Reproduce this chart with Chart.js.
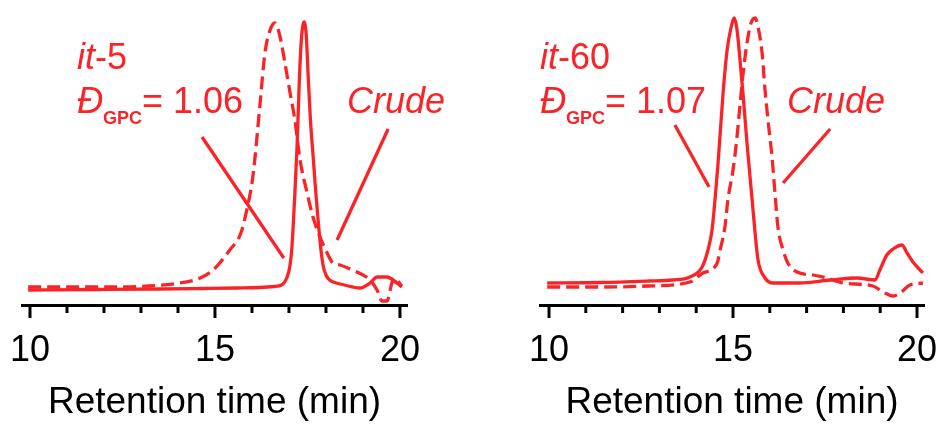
<!DOCTYPE html>
<html lang="en">
<head>
<meta charset="UTF-8">
<title>GPC traces</title>
<script src="https://cdn.jsdelivr.net/npm/chart.js"></script>
<style>
  body { margin: 0; background: #fff; }
  canvas { position: absolute; top: 0; }
</style>
</head>
<body>
<canvas id="left" width="472" height="425" style="left:0"></canvas>
<canvas id="right" width="472" height="425" style="left:472px"></canvas>
<script>
const red = 'rgb(250, 36, 40)';
const font = "'Liberation Sans', Arial, sans-serif";

// x axis: a tick every minute, labels every 5
const tickValues = [10, 11, 12, 13, 14, 15, 16, 17, 18, 19, 20];
const labelValues = [10, 15, 20];

// it-5 (purified) and its crude trace
const it5Time = [9.95, 11.9, 13.5, 14.6, 15.6, 16.2, 16.6, 16.8, 16.95, 17.03, 17.08, 17.15, 17.22, 17.28, 17.34, 17.41, 17.47, 17.52, 17.58, 17.65, 17.72, 17.78, 17.85, 17.92, 18.0, 18.1, 18.2, 18.5, 18.92, 19.19, 19.38, 19.65, 19.81, 20.05];
const it5Signal = [15, 15.5, 16, 16.5, 17, 17.5, 18.5, 20, 28, 40, 58, 105, 160, 225, 268, 283, 268, 228, 185, 150, 115, 88, 60, 40, 30, 25, 23, 20, 17, 22, 28, 28, 25, 18];
const crude5Time = [9.95, 11.9, 13.2, 14.05, 14.6, 14.95, 15.4, 15.7, 15.86, 16.0, 16.08, 16.22, 16.35, 16.49, 16.62, 16.76, 16.89, 17.03, 17.16, 17.3, 17.49, 17.65, 17.84, 18.03, 18.19, 18.38, 18.65, 19.0, 19.19, 19.38, 19.51, 19.65, 19.78, 19.84, 20.05];
const crude5Signal = [18, 18, 19, 22, 27, 35, 55, 72, 95, 122, 147, 202, 252, 275, 282, 268, 242, 212, 185, 145, 112, 88, 68, 52, 42, 40, 36, 30, 25, 15, 4, 4, 22, 27, 19];

// it-60 (purified) and its crude trace
const it60Time = [9.95, 11.4, 12.7, 13.35, 13.83, 14.16, 14.32, 14.43, 14.51, 14.59, 14.73, 14.84, 14.95, 15.03, 15.11, 15.19, 15.27, 15.38, 15.52, 15.6, 15.68, 15.87, 16.09, 16.8, 17.64, 18.37, 18.86, 18.99, 19.18, 19.35, 19.59, 19.73, 19.89, 20.16];
const it60Signal = [22, 22.5, 24, 25, 28, 38, 55, 75, 105, 140, 212, 255, 278, 287, 275, 245, 212, 162, 105, 72, 45, 27, 22, 22, 25, 27, 25, 35, 50, 56, 60, 52, 43, 32];
const crude60Time = [9.95, 11.4, 12.7, 13.83, 14.18, 14.57, 14.65, 14.78, 14.86, 15.0, 15.1, 15.19, 15.27, 15.38, 15.49, 15.6, 15.68, 15.79, 15.87, 15.95, 16.06, 16.14, 16.22, 16.36, 16.49, 16.74, 17.17, 17.55, 17.99, 18.8, 19.08, 19.35, 19.54, 19.81, 20.16];
const crude60Signal = [18, 18, 19, 23, 32, 42, 55, 78, 105, 135, 165, 200, 230, 262, 282, 287, 278, 252, 215, 185, 148, 112, 78, 55, 42, 33, 30, 27, 22, 19, 13, 9, 12, 20, 22];

// leader lines from the labels to the traces
const it5PointerTime = [14.65, 16.86];
const it5PointerSignal = [168, 47];
const crude5PointerTime = [19.68, 18.3];
const crude5PointerSignal = [176, 65];
const it60PointerTime = [13.42, 14.35];
const it60PointerSignal = [180, 118];
const crude60PointerTime = [17.64, 16.36];
const crude60PointerSignal = [176, 122];

const pts = (xs, ys) => xs.map((x, i) => ({ x: x, y: ys[i] }));

const tickMarks = {
  id: 'tickMarks',
  afterDraw(chart) {
    const ctx = chart.ctx;
    const sx = chart.scales.x;
    const y0 = chart.chartArea.bottom;
    ctx.save();
    ctx.strokeStyle = '#000';
    ctx.lineWidth = 3;
    tickValues.forEach(v => {
      const px = sx.getPixelForValue(v);
      const len = labelValues.includes(v) ? 13 : 8;
      ctx.beginPath();
      ctx.moveTo(px, y0);
      ctx.lineTo(px, y0 + len);
      ctx.stroke();
    });
    ctx.restore();
  }
};

const notes = {
  id: 'notes',
  afterDraw(chart, args, opts) {
    const ctx = chart.ctx;
    ctx.save();
    ctx.fillStyle = red;
    ctx.textBaseline = 'alphabetic';
    (opts.lines || []).forEach(line => {
      let x = line.x;
      line.parts.forEach(p => {
        const size = p.size || 36;
        ctx.font = (p.italic ? 'italic ' : '') + (p.bold ? 'bold ' : '') + size + 'px ' + font;
        ctx.fillText(p.text, x, line.y + (p.dy || 0));
        x += ctx.measureText(p.text).width;
      });
    });
    ctx.restore();
  }
};

function makePanel(id, trace, crude, ptrA, ptrB, xMin, xMax, padding, lines) {
  const lineSet = (data, dash) => ({
    data: data,
    borderColor: red,
    borderWidth: 3.3,
    borderDash: dash,
    pointRadius: 0,
    cubicInterpolationMode: 'monotone',
    fill: false
  });
  const pointer = data => ({
    data: data,
    borderColor: red,
    borderWidth: 3.3,
    pointRadius: 0,
    tension: 0,
    fill: false
  });
  return new Chart(document.getElementById(id), {
    type: 'line',
    data: {
      datasets: [
        lineSet(trace, []),
        lineSet(crude, [13, 6]),
        pointer(ptrA),
        pointer(ptrB)
      ]
    },
    options: {
      responsive: false,
      animation: false,
      devicePixelRatio: 1,
      layout: { padding: padding },
      plugins: {
        legend: { display: false },
        tooltip: { enabled: false },
        notes: { lines: lines }
      },
      scales: {
        x: {
          type: 'linear',
          min: xMin,
          max: xMax,
          afterBuildTicks: scale => { scale.ticks = tickValues.map(v => ({ value: v })); },
          afterFit: scale => {
            scale.height = 120;
            scale.paddingLeft = 0;
            scale.paddingRight = 0;
          },
          grid: { display: false, drawTicks: false },
          border: { display: true, color: '#000', width: 3 },
          ticks: {
            autoSkip: false,
            maxRotation: 0,
            padding: 24,
            color: '#000',
            font: { family: font, size: 36 },
            callback: v => labelValues.includes(v) ? String(v) : ''
          },
          title: {
            display: true,
            text: 'Retention time (min)',
            color: '#000',
            font: { family: font, size: 37 },
            padding: { top: 13, bottom: 0 }
          }
        },
        y: { display: false, min: 0, max: 290 }
      }
    },
    plugins: [tickMarks, notes]
  });
}

makePanel('left',
  pts(it5Time, it5Signal), pts(crude5Time, crude5Signal),
  pts(it5PointerTime, it5PointerSignal), pts(crude5PointerTime, crude5PointerSignal),
  9.784, 20.19, { left: 22, right: 65, top: 15, bottom: 0 },
  [
    { x: 77, y: 69, parts: [{ text: 'it', italic: true }, { text: '-5' }] },
    { x: 77, y: 113, parts: [{ text: 'Đ', italic: true }, { text: 'GPC', size: 18, bold: true, dy: 11 }, { text: '= 1.06' }] },
    { x: 347, y: 113, parts: [{ text: 'Crude', italic: true }] }
  ]);

makePanel('right',
  pts(it60Time, it60Signal), pts(crude60Time, crude60Signal),
  pts(it60PointerTime, it60PointerSignal), pts(crude60PointerTime, crude60PointerSignal),
  9.755, 20.19, { left: 68, right: 20, top: 15, bottom: 0 },
  [
    { x: 68, y: 69, parts: [{ text: 'it', italic: true }, { text: '-60' }] },
    { x: 68, y: 113, parts: [{ text: 'Đ', italic: true }, { text: 'GPC', size: 18, bold: true, dy: 11 }, { text: '= 1.07' }] },
    { x: 315, y: 113, parts: [{ text: 'Crude', italic: true }] }
  ]);
</script>
</body>
</html>
